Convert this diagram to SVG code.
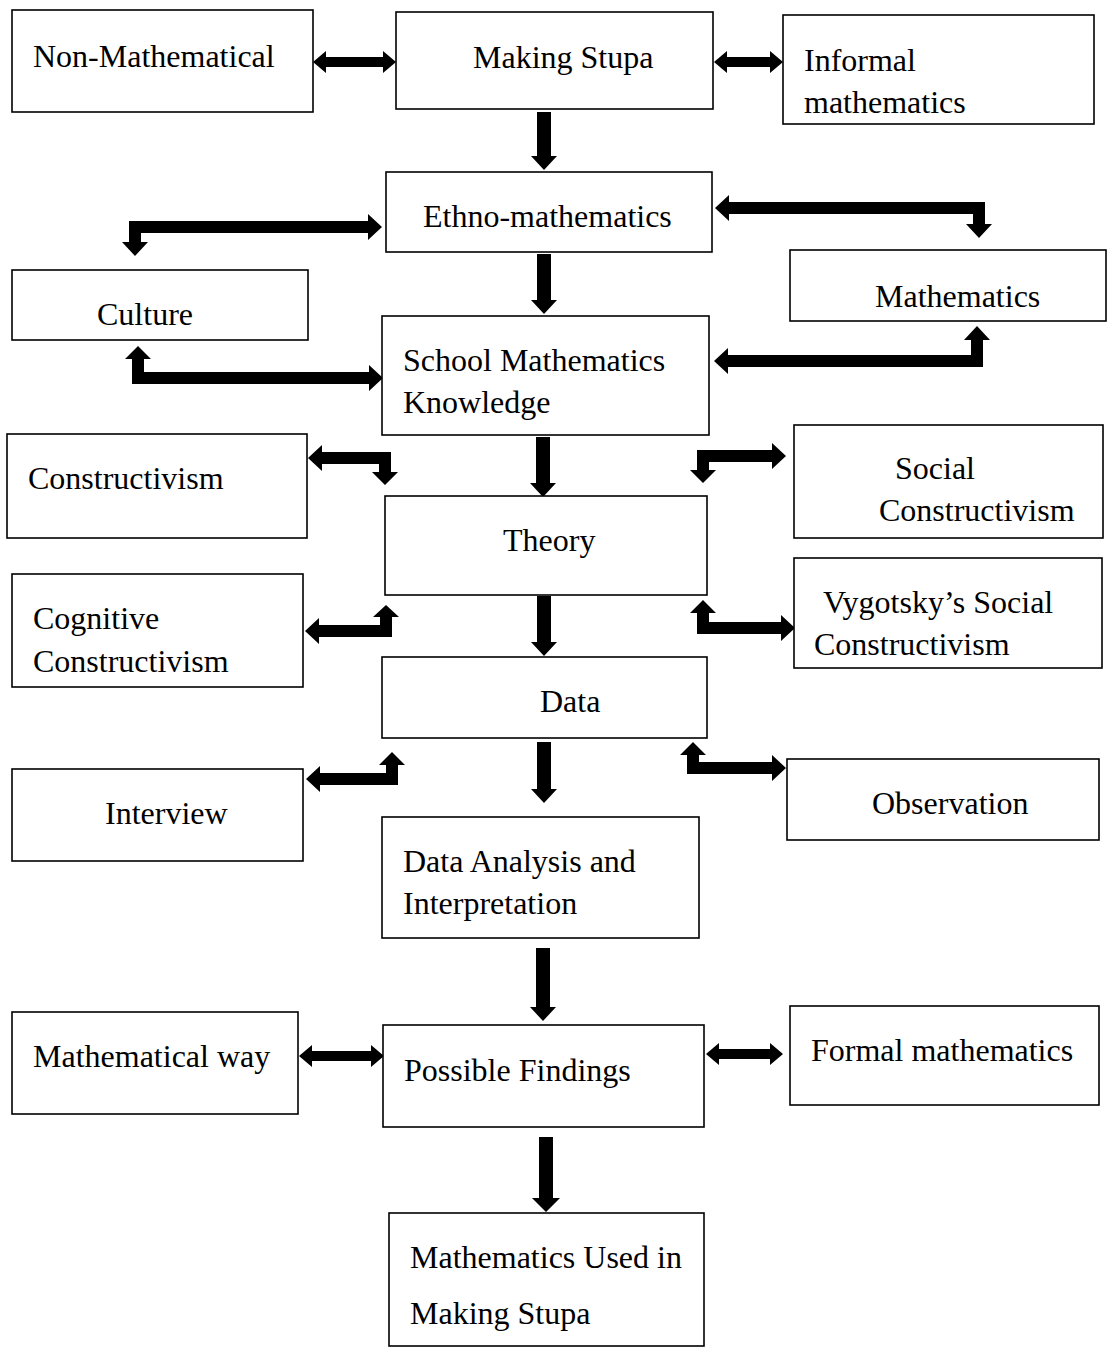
<svg xmlns="http://www.w3.org/2000/svg" width="1108" height="1347" viewBox="0 0 1108 1347">
<style>
.box{fill:#fff;stroke:#000;stroke-width:1.6}
.t{font-family:"Liberation Serif","Times New Roman",serif;font-size:32px;fill:#000}
.arr{fill:#000}
</style>
<rect width="1108" height="1347" fill="#fff"/>
<g id="connectors">
<polygon class="arr" points="313,62 326,51 326,57 383,57 383,51 396,62 383,73 383,67 326,67 326,73"/>
<polygon class="arr" points="714,62 727,51 727,57 770,57 770,51 783,62 770,73 770,67 727,67 727,73"/>
<polygon class="arr" points="299,1056 312,1045 312,1051 371,1051 371,1045 384,1056 371,1067 371,1061 312,1061 312,1067"/>
<polygon class="arr" points="706,1054 719,1043 719,1049 770,1049 770,1043 783,1054 770,1065 770,1059 719,1059 719,1065"/>
<polygon class="arr" points="537,112 551,112 551,156 557,156 544,170 531,156 537,156"/>
<polygon class="arr" points="537,254 551,254 551,300 557,300 544,314 531,300 537,300"/>
<polygon class="arr" points="536,437 550,437 550,483 556,483 543,497 530,483 536,483"/>
<polygon class="arr" points="537,596 551,596 551,642 557,642 544,656 531,642 537,642"/>
<polygon class="arr" points="537,742 551,742 551,789 557,789 544,803 531,789 537,789"/>
<polygon class="arr" points="536,948 550,948 550,1007 556,1007 543,1021 530,1007 536,1007"/>
<polygon class="arr" points="539,1137 553,1137 553,1198 560,1198 546,1212 532,1198 539,1198"/>
<polygon class="arr" points="382,227 368,214 368,221 129,221 129,242 122,242 135,256 148,242 141,242 141,233 368,233 368,240"/>
<polygon class="arr" points="715,208 729,195 729,202 985,202 985,224 992,224 979,238 966,224 973,224 973,214 729,214 729,221"/>
<polygon class="arr" points="138,346 151,359 144,359 144,372 369,372 369,365 383,378 369,391 369,384 132,384 132,359 125,359"/>
<polygon class="arr" points="714,361 728,348 728,355 971,355 971,340 964,340 977,326 990,340 983,340 983,367 728,367 728,374"/>
<polygon class="arr" points="308,458 322,445 322,452 391,452 391,472 398,472 385,485 372,472 379,472 379,464 322,464 322,471"/>
<polygon class="arr" points="786,456 772,443 772,450 697,450 697,470 690,470 703,483 716,470 709,470 709,462 772,462 772,469"/>
<polygon class="arr" points="386,605 399,617 392,617 392,637 319,637 319,644 305,631 319,618 319,625 380,625 380,617 373,617"/>
<polygon class="arr" points="703,600 716,613 709,613 709,622 781,622 781,615 795,628 781,641 781,634 697,634 697,613 690,613"/>
<polygon class="arr" points="392,752 405,765 398,765 398,785 320,785 320,792 306,779 320,766 320,773 386,773 386,765 379,765"/>
<polygon class="arr" points="693,742 706,755 699,755 699,762 772,762 772,755 786,768 772,781 772,774 687,774 687,755 680,755"/>
</g>
<g id="n-nonmath"><rect class="box" x="12" y="10" width="301" height="102"/><text class="t" x="33" y="67">Non-Mathematical</text></g>
<g id="n-stupa"><rect class="box" x="396" y="12" width="317" height="97"/><text class="t" x="473" y="68">Making Stupa</text></g>
<g id="n-informal"><rect class="box" x="783" y="15" width="311" height="109"/><text class="t" x="804" y="71">Informal</text><text class="t" x="804" y="113">mathematics</text></g>
<g id="n-ethno"><rect class="box" x="386" y="172" width="326" height="80"/><text class="t" x="423" y="227">Ethno-mathematics</text></g>
<g id="n-culture"><rect class="box" x="12" y="270" width="296" height="70"/><text class="t" x="97" y="325">Culture</text></g>
<g id="n-math"><rect class="box" x="790" y="250" width="316" height="71"/><text class="t" x="875" y="307">Mathematics</text></g>
<g id="n-school"><rect class="box" x="382" y="316" width="327" height="119"/><text class="t" x="403" y="371">School Mathematics</text><text class="t" x="403" y="413">Knowledge</text></g>
<g id="n-constr"><rect class="box" x="7" y="434" width="300" height="104"/><text class="t" x="28" y="489">Constructivism</text></g>
<g id="n-social"><rect class="box" x="794" y="425" width="309" height="113"/><text class="t" x="895" y="479">Social</text><text class="t" x="879" y="521">Constructivism</text></g>
<g id="n-theory"><rect class="box" x="385" y="496" width="322" height="99"/><text class="t" x="503" y="551">Theory</text></g>
<g id="n-cognitive"><rect class="box" x="12" y="574" width="291" height="113"/><text class="t" x="33" y="629">Cognitive</text><text class="t" x="33" y="672">Constructivism</text></g>
<g id="n-vygotsky"><rect class="box" x="794" y="558" width="308" height="110"/><text class="t" x="823" y="613">Vygotsky’s Social</text><text class="t" x="814" y="655">Constructivism</text></g>
<g id="n-data"><rect class="box" x="382" y="657" width="325" height="81"/><text class="t" x="540" y="712">Data</text></g>
<g id="n-interview"><rect class="box" x="12" y="769" width="291" height="92"/><text class="t" x="105" y="824">Interview</text></g>
<g id="n-observation"><rect class="box" x="787" y="759" width="312" height="81"/><text class="t" x="872" y="814">Observation</text></g>
<g id="n-analysis"><rect class="box" x="382" y="817" width="317" height="121"/><text class="t" x="403" y="872">Data Analysis and</text><text class="t" x="403" y="914">Interpretation</text></g>
<g id="n-mathway"><rect class="box" x="12" y="1012" width="286" height="102"/><text class="t" x="33" y="1067">Mathematical way</text></g>
<g id="n-findings"><rect class="box" x="383" y="1025" width="321" height="102"/><text class="t" x="404" y="1081">Possible Findings</text></g>
<g id="n-formal"><rect class="box" x="790" y="1006" width="309" height="99"/><text class="t" x="811" y="1061">Formal mathematics</text></g>
<g id="n-used"><rect class="box" x="389" y="1213" width="315" height="133"/><text class="t" x="410" y="1268">Mathematics Used in</text><text class="t" x="410" y="1324">Making Stupa</text></g>
</svg>
